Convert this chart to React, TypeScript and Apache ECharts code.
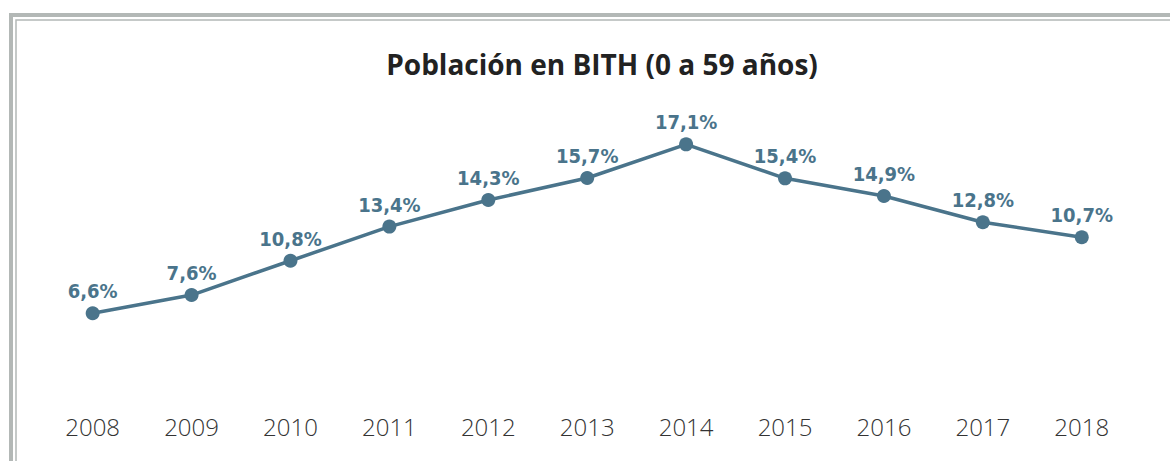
import React, { useEffect, useRef } from "react";
import * as echarts from "echarts";

const years = ["2008", "2009", "2010", "2011", "2012", "2013", "2014", "2015", "2016", "2017", "2018"];
// point heights as drawn in the picture (percent)
const plotted = [6.6, 7.73, 9.86, 11.98, 13.63, 15.0, 17.09, 14.98, 13.88, 12.25, 11.32];
// printed data labels
const labels = ["6,6%", "7,6%", "10,8%", "13,4%", "14,3%", "15,7%", "17,1%", "15,4%", "14,9%", "12,8%", "10,7%"];
const title = "Población en BITH (0 a 59 años)";

export default function App() {
  const ref = useRef<HTMLDivElement>(null);
  useEffect(() => {
    document.body.style.margin = "0";
    const chart = echarts.init(ref.current!, null, { renderer: "svg" });
    chart.setOption({
      animation: false,
      backgroundColor: "#ffffff",
      title: {
        text: title,
        left: 597,
        textAlign: "center",
        top: 45,
        textStyle: { fontFamily: "'Open Sans', Lato, sans-serif", fontWeight: "bold", fontSize: 28, color: "#222222" },
      },
      graphic: [
        { type: "rect", shape: { x: 11, y: 15, width: 1200, height: 500 }, style: { fill: "none", stroke: "#b3b8b6", lineWidth: 4 }, silent: true },
        { type: "rect", shape: { x: 16, y: 20, width: 1200, height: 500 }, style: { fill: "none", stroke: "#b3b8b6", lineWidth: 1.5 }, silent: true },
      ],
      grid: { left: 43.2, right: 38.8, top: 97.5, bottom: 41.5 },
      xAxis: {
        type: "category",
        data: years,
        boundaryGap: true,
        axisLine: { show: false },
        axisTick: { show: false },
        axisLabel: { fontFamily: "'Open Sans', Lato, sans-serif", fontWeight: 300, fontSize: 24, color: "#333333", margin: -5 },
      },
      yAxis: { type: "value", min: 0, max: 20, show: false, splitLine: { show: false } },
      series: [
        {
          type: "line",
          data: plotted,
          symbol: "circle",
          symbolSize: 14,
          itemStyle: { color: "#4a748b" },
          lineStyle: { color: "#4a748b", width: 3.5 },
          label: {
            show: true,
            position: "top",
            distance: 5,
            formatter: (p: any) => labels[p.dataIndex],
            fontFamily: "'DejaVu Sans Condensed', sans-serif",
            fontWeight: "bold",
            fontSize: 20,
            color: "#4a748b",
          },
        },
      ],
    });
    return () => chart.dispose();
  }, []);
  return <div ref={ref} style={{ position: "fixed", left: 0, top: 0, width: 1170, height: 461 }} />;
}
